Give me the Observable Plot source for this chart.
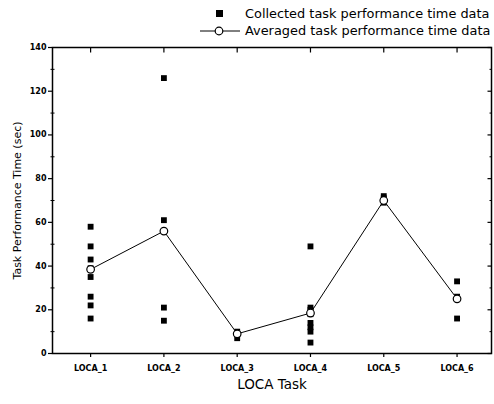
<!DOCTYPE html>
<html>
<head>
<meta charset="utf-8">
<script src="https://cdn.jsdelivr.net/npm/d3@7"></script>
<script src="https://cdn.jsdelivr.net/npm/@observablehq/plot@0.6"></script>
<style>
  body { margin: 0; background: #fff; }
  #wrap { position: relative; width: 494px; height: 404px; overflow: hidden; font-family: "DejaVu Sans", sans-serif; }
  #legend { position: absolute; left: 200px; top: 5px; font-size: 12.9px; color: #000; white-space: nowrap; }
  #legend .row { display: flex; align-items: center; height: 17px; }
  #legend svg { margin-right: 5px; }
</style>
</head>
<body>
<div id="wrap">
  <div id="chart"></div>
  <div id="legend">
    <div class="row"><svg width="40" height="12"><rect x="16" y="2" width="7" height="7" fill="#000"/></svg>Collected task performance time data</div>
    <div class="row"><svg width="40" height="12"><line x1="0" y1="6" x2="40" y2="6" stroke="#000" stroke-width="1"/><circle cx="19" cy="6" r="3.8" fill="#fff" stroke="#000" stroke-width="1.2"/></svg>Averaged task performance time data</div>
  </div>
</div>
<script>
const tasks = ["LOCA_1", "LOCA_2", "LOCA_3", "LOCA_4", "LOCA_5", "LOCA_6"];
const collected = [
  [58, 49, 43, 39, 35, 26, 22, 16],
  [126, 61, 21, 15],
  [10, 9, 7],
  [49, 21, 20, 18, 14, 12, 10, 5],
  [72, 71, 69],
  [33, 26, 16]
];
const averaged = [38.5, 56, 9, 18.5, 70, 25];
const yMajor = [0, 20, 40, 60, 80, 100, 120, 140];
const yMinor = [10, 30, 50, 70, 90, 110, 130];

const points = collected.flatMap((vals, i) => vals.map(v => ({task: i + 1, value: v})));
const avg = averaged.map((v, i) => ({task: i + 1, value: v}));
const xTicks = tasks.map((t, i) => i + 1);

// tick-shaped symbols: segment relative to the anchor point
const seg = (x1, y1, x2, y2) => ({draw(ctx) { ctx.moveTo(x1, y1); ctx.lineTo(x2, y2); }});
const tickStyle = {fill: "none", stroke: "#000", r: 3};

const chart = Plot.plot({
  width: 494,
  height: 404,
  marginTop: 47,
  marginBottom: 51,
  marginLeft: 52,
  marginRight: 3,
  style: {fontFamily: "DejaVu Sans, sans-serif", color: "#000", background: "#fff"},
  x: {domain: [0.48, 6.47]},
  y: {domain: [0, 140]},
  marks: [
    Plot.frame({stroke: "#000", strokeWidth: 1.5}),
    Plot.dot(yMinor, {y: d => d, frameAnchor: "left", symbol: seg(-2, 0, 2, 0), ...tickStyle, strokeWidth: 1}),
    Plot.dot(yMajor, {y: d => d, frameAnchor: "right", symbol: seg(0, 0, -4, 0), ...tickStyle, strokeWidth: 1.2}),
    Plot.dot(yMinor, {y: d => d, frameAnchor: "right", symbol: seg(0, 0, -2, 0), ...tickStyle, strokeWidth: 1}),
    Plot.dot(xTicks, {x: d => d, frameAnchor: "top", symbol: seg(0, 0, 0, 5), ...tickStyle, strokeWidth: 1.2}),
    Plot.axisY(yMajor, {anchor: "left", tickSize: 4, tickPadding: 2, fontSize: 8, fontWeight: "bold", strokeWidth: 1.2,
      label: "Task Performance Time (sec)", labelAnchor: "center", labelArrow: "none", labelOffset: 39}),
    Plot.axisX(xTicks, {anchor: "bottom", tickSize: 4, tickPadding: 8, fontSize: 8, fontWeight: "bold", strokeWidth: 1.2,
      tickFormat: d => tasks[d - 1],
      label: "LOCA Task", labelAnchor: "center", labelArrow: "none", labelOffset: 35}),
    Plot.line(avg, {x: "task", y: "value", stroke: "#000", strokeWidth: 1}),
    Plot.dot(points, {x: "task", y: "value", symbol: "square", fill: "#000", r: 3.3}),
    Plot.dot(avg, {x: "task", y: "value", symbol: "circle", fill: "#fff", stroke: "#000", strokeWidth: 1.2, r: 3.8})
  ]
});
chart.querySelectorAll("g[aria-label='y-axis label'] text").forEach(t => { t.style.fontSize = "11px"; t.style.fontWeight = "normal"; });
chart.querySelectorAll("g[aria-label='x-axis label'] text").forEach(t => { t.style.fontSize = "13.5px"; t.style.fontWeight = "normal"; });
document.getElementById("chart").appendChild(chart);
</script>
</body>
</html>
